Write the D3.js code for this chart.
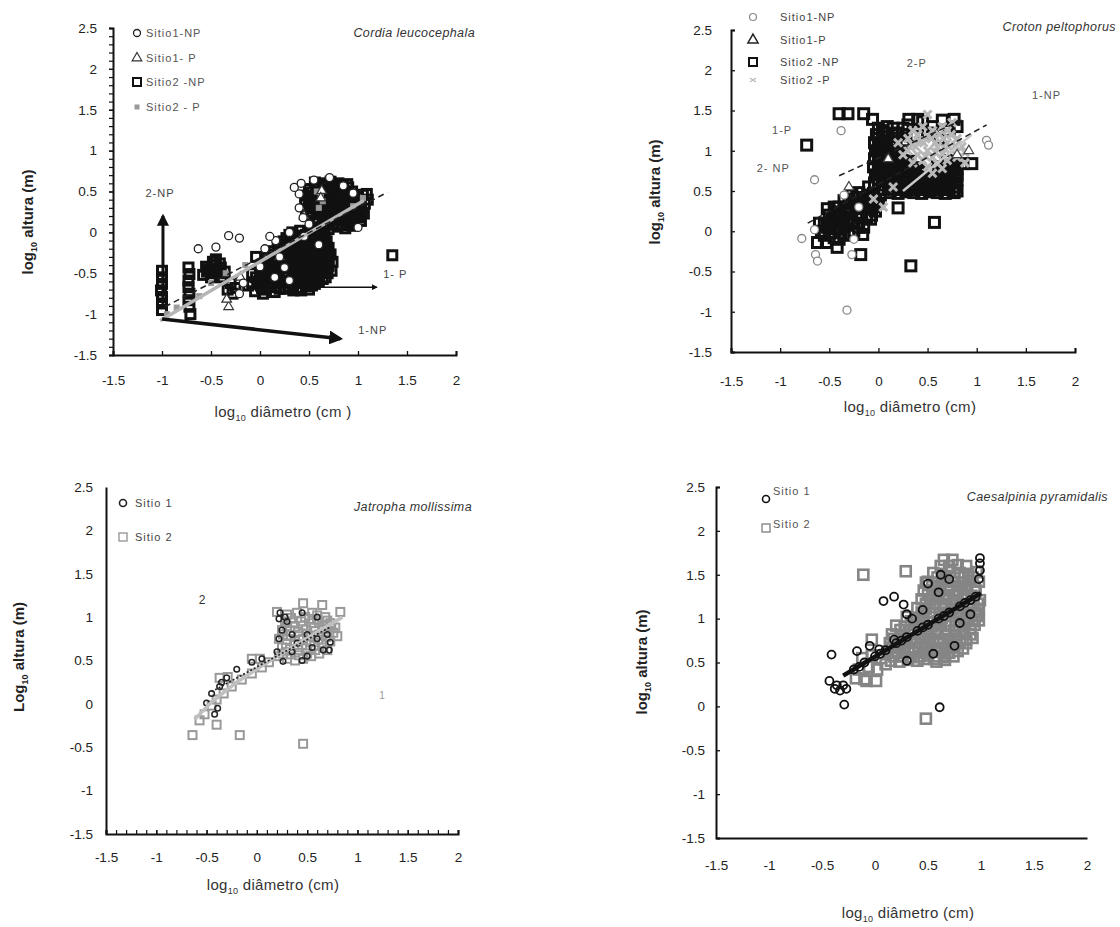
<!DOCTYPE html>
<html>
<head>
<meta charset="utf-8">
<script src="https://cdn.jsdelivr.net/npm/d3@7"></script>
<style>
body{margin:0;background:#fff;}
svg{font-family:"Liberation Sans",Arial,sans-serif;}
</style>
</head>
<body>
<svg id="chart" width="1120" height="927"></svg>
<script>
// tick labels shared by all four panels
var xTicks=[-1.5,-1,-0.5,0,0.5,1,1.5,2];
var yTicks=[-1.5,-1,-0.5,0,0.5,1,1.5,2,2.5];

// ---- Cordia leucocephala (top left) ----
var cordiaS1NP=[[-0.63,-0.20],[-0.45,-0.18],[-0.32,-0.04],[-0.21,-0.07],[-0.21,-0.75],[-0.17,-0.62],[0.71,0.67],[1.0,0.06],
  [0.40,0.47],[0.40,0.30],[0.44,0.18],[0.16,-0.10],[0.30,-0.59],[0.25,-0.43],[0.10,-0.05],[0.05,-0.20],[0.35,0.55],[0.42,0.60],
  [0.55,0.64],[0.85,0.57],[0.95,0.48],[0.20,-0.30],[0.45,-0.05],[0.50,0.10],[0.0,-0.42],[0.60,-0.15],[0.30,0.0],[0.15,-0.55]];
var cordiaS1P=[[-0.32,-0.91],[-0.34,-0.82],[0.63,0.51],[0.62,0.42],[0.45,0.2],[0.2,-0.3],[-0.2,-0.55]];
var cordiaS2NP=[[-1.0,-0.47],[-1.0,-0.55],[-1.0,-0.63],[-1.01,-0.71],[-1.0,-0.79],[-1.0,-0.87],[-1.0,-0.95],
  [-0.73,-0.43],[-0.72,-0.51],[-0.73,-0.59],[-0.73,-0.67],[-0.72,-0.75],[-0.73,-0.83],[-0.72,-0.91],[-0.71,-1.0],
  [-0.58,-0.52],[-0.52,-0.45],[-0.47,-0.40],[-0.42,-0.50],[-0.50,-0.55],[-0.45,-0.33],[-0.38,-0.55],[-0.55,-0.42],[-0.40,-0.43],
  [-0.54,-0.48],[-0.49,-0.5],[-0.44,-0.46],[-0.48,-0.36],[-0.41,-0.38],[-0.36,-0.48],
  [-0.33,-0.70],[-0.28,-0.75],[-0.30,-0.62],[-0.25,-0.68],
  [1.35,-0.28],[0.34,-0.71],[0.03,-0.75],[0.63,-0.28],[-0.04,-0.30],[-0.12,-0.65],[-0.08,-0.5],
  [-0.05,-0.72],[0.06,-0.70],[0.15,-0.73],[0.26,-0.69],[0.42,-0.71],[0.5,-0.7],
  [0.02,-0.68],[0.11,-0.67],[0.2,-0.69],[0.3,-0.67],[0.38,-0.68],[0.47,-0.66],[0.56,-0.63],
  [-0.08,-0.63],[0.01,-0.65],[0.09,-0.62],[0.17,-0.66],[0.24,-0.61],[0.33,-0.64],[0.44,-0.62],[0.53,-0.65],[0.6,-0.6],
  [-0.02,-0.6],[0.06,-0.6],[0.14,-0.59],[0.22,-0.61],[0.3,-0.6],[0.39,-0.59],[0.48,-0.6],[0.56,-0.58],[0.64,-0.57],
  [-0.04,-0.55],[0.04,-0.57],[0.12,-0.54],[0.19,-0.58],[0.28,-0.55],[0.36,-0.53],[0.43,-0.57],[0.51,-0.54],[0.6,-0.52],[0.67,-0.55],
  [0.02,-0.52],[0.1,-0.51],[0.18,-0.52],[0.27,-0.51],[0.35,-0.5],[0.44,-0.52],[0.53,-0.5],[0.61,-0.49],[0.69,-0.5],
  [0.0,-0.47],[0.09,-0.49],[0.16,-0.46],[0.25,-0.48],[0.33,-0.45],[0.41,-0.49],[0.49,-0.46],[0.57,-0.48],[0.65,-0.45],[0.73,-0.47],
  [0.05,-0.44],[0.13,-0.43],[0.22,-0.44],[0.3,-0.42],[0.38,-0.44],[0.46,-0.43],[0.54,-0.42],[0.62,-0.43],[0.7,-0.41],
  [0.03,-0.39],[0.11,-0.41],[0.19,-0.38],[0.27,-0.41],[0.35,-0.38],[0.43,-0.41],[0.51,-0.39],[0.59,-0.41],[0.67,-0.38],[0.74,-0.36],
  [0.12,-0.36],[0.2,-0.35],[0.29,-0.36],[0.37,-0.34],[0.45,-0.36],[0.53,-0.35],[0.62,-0.35],[0.7,-0.33],
  [0.08,-0.31],[0.17,-0.33],[0.24,-0.3],[0.33,-0.32],[0.41,-0.3],[0.49,-0.33],[0.57,-0.3],[0.66,-0.32],[0.72,-0.27],
  [0.12,-0.27],[0.2,-0.28],[0.28,-0.26],[0.37,-0.28],[0.44,-0.27],[0.52,-0.28],[0.6,-0.26],[0.68,-0.24],
  [0.14,-0.23],[0.23,-0.25],[0.3,-0.22],[0.39,-0.25],[0.46,-0.22],[0.55,-0.24],[0.62,-0.21],[0.7,-0.19],
  [0.18,-0.19],[0.26,-0.2],[0.34,-0.19],[0.42,-0.2],[0.5,-0.19],[0.58,-0.2],[0.66,-0.17],
  [0.2,-0.15],[0.29,-0.17],[0.36,-0.14],[0.45,-0.16],[0.52,-0.13],[0.61,-0.15],[0.68,-0.11],
  [0.24,-0.11],[0.32,-0.12],[0.4,-0.11],[0.48,-0.12],[0.56,-0.1],[0.64,-0.08],
  [0.27,-0.07],[0.35,-0.09],[0.43,-0.06],[0.51,-0.08],[0.59,-0.05],[0.66,-0.03],
  [0.3,-0.03],[0.39,-0.04],[0.47,-0.03],[0.55,-0.02],[0.62,-0.01],
  [0.33,0.0],[0.41,0.02],[0.49,-0.01],[0.57,0.03],[0.64,0.01],
  [0.62,0.06],[0.7,0.04],[0.79,0.07],[0.87,0.05],[0.94,0.08],
  [0.66,0.09],[0.75,0.1],[0.83,0.09],[0.91,0.11],
  [0.55,0.13],[0.64,0.14],[0.71,0.12],[0.8,0.15],[0.88,0.13],[0.96,0.15],[1.03,0.14],
  [0.59,0.17],[0.68,0.17],[0.76,0.18],[0.85,0.17],[0.93,0.18],[1.01,0.18],
  [0.5,0.21],[0.58,0.22],[0.67,0.2],[0.74,0.23],[0.83,0.21],[0.9,0.22],[0.99,0.2],[1.06,0.23],
  [0.53,0.25],[0.62,0.25],[0.7,0.26],[0.79,0.25],[0.87,0.26],[0.95,0.25],[1.03,0.27],
  [0.47,0.29],[0.56,0.3],[0.63,0.28],[0.72,0.31],[0.79,0.29],[0.88,0.3],[0.95,0.28],[1.03,0.31],
  [0.51,0.33],[0.59,0.33],[0.68,0.34],[0.76,0.33],[0.84,0.34],[0.92,0.33],[1.0,0.35],[1.07,0.35],
  [0.46,0.37],[0.54,0.38],[0.63,0.36],[0.7,0.39],[0.79,0.37],[0.86,0.38],[0.94,0.36],[1.02,0.39],[1.1,0.4],
  [0.5,0.41],[0.59,0.41],[0.67,0.42],[0.76,0.41],[0.84,0.42],[0.92,0.41],[1.0,0.43],
  [0.48,0.45],[0.57,0.46],[0.64,0.44],[0.73,0.47],[0.8,0.45],[0.89,0.46],[0.96,0.44],[1.05,0.46],[1.09,0.47],
  [0.53,0.49],[0.61,0.5],[0.69,0.49],[0.78,0.5],[0.86,0.5],[0.94,0.5],
  [0.5,0.53],[0.59,0.54],[0.66,0.52],[0.75,0.55],[0.82,0.53],[0.9,0.55],
  [0.6,0.57],[0.68,0.57],[0.77,0.57],[0.85,0.56],
  [0.56,0.61],[0.64,0.6],[0.72,0.62],[0.8,0.6],[0.89,0.59]];
var cordiaS2P=[[-0.95,-1.0],[-0.85,-0.92],[-0.62,-0.78],[-0.5,-0.62],[-0.35,-0.5],[-0.15,-0.4],[0.62,0.45],[0.6,0.3],
  [0.64,0.38],[0.58,0.5],[1.05,0.42],[0.95,0.32]];
var cordiaFitS2NP=[[-0.97,-0.91],[1.30,0.49]];
var cordiaFitS2P=[[-1.02,-1.08],[1.06,0.39]];
var cordiaArrows=[
  {from:[-0.99,-0.93],to:[-0.99,0.20],label:"2-NP",at:[-1.02,0.48]},
  {from:[0.34,-0.67],to:[1.19,-0.67],label:"1- P",at:[1.38,-0.51]},
  {from:[-1.0,-1.06],to:[0.82,-1.30],label:"1-NP",at:[1.15,-1.19]}];
var cordiaLegend=["Sitio1-NP","Sitio1- P","Sitio2 -NP","Sitio2 - P"];

// ---- Croton peltophorus (top right) ----
var crotonS1NP=[[-0.38,1.25],[-0.65,0.64],[-0.78,-0.09],[-0.65,0.02],[-0.64,-0.29],[-0.62,-0.37],[-0.25,-0.10],[-0.27,-0.29],
  [-0.32,-0.98],[1.10,1.13],[1.12,1.07],[-0.35,0.45],[-0.2,0.3]];
var crotonS1P=[[0.92,1.0],[-0.3,0.55],[0.1,0.9],[0.8,0.95]];
var crotonS2NP=[[-0.40,1.46],[-0.31,1.46],[-0.15,1.46],[-0.06,1.39],[-0.73,1.07],[0.31,1.39],[0.40,1.39],[0.77,1.39],
  [0.95,0.84],[0.86,0.84],[0.77,0.76],[0.77,0.48],[0.20,0.29],[0.57,0.11],[0.33,-0.43],[-0.62,-0.14],[-0.53,-0.14],
  [-0.42,-0.20],[-0.18,-0.29],[-0.16,-0.04],[-0.07,0.20],
  [-0.58,0.0],[-0.55,0.08],[-0.5,-0.02],[-0.48,0.1],[-0.45,0.18],[-0.42,0.03],[-0.4,0.12],[-0.38,0.22],[-0.35,0.06],[-0.33,0.3],
  [-0.3,0.15],[-0.28,0.25],[-0.25,0.35],[-0.22,0.1],[-0.2,0.2],[-0.18,0.3],[-0.15,0.4],[-0.12,0.18],[-0.1,0.28],[-0.08,0.38],
  [-0.05,0.47],[-0.03,0.25],[0.0,0.35],[0.02,0.45],[-0.45,-0.08],[-0.35,-0.04],[-0.25,0.0],[-0.5,0.2],[-0.4,0.3],[-0.3,0.4],
  [-0.2,0.48],[-0.1,0.55],[0.05,0.52],[-0.15,0.05],
  [-0.55,-0.05],[-0.52,0.05],[-0.47,0.14],[-0.43,0.24],[-0.37,0.15],[-0.32,0.22],[-0.27,0.1],[-0.24,0.28],[-0.22,0.42],
  [-0.17,0.2],[-0.13,0.33],[-0.11,0.45],[-0.06,0.3],[-0.03,0.4],[0.0,0.52],[-0.4,-0.1],[-0.3,-0.05],[-0.45,0.3],
  [-0.35,0.38],[-0.6,0.1],[-0.52,0.28],[-0.38,-0.02],[-0.2,0.05],[-0.08,0.15],[-0.27,0.45],
  [-0.04,0.6],[0.04,0.62],[0.12,0.6],[-0.03,0.7],[0.05,0.72],[0.13,0.7],[-0.05,0.8],[0.03,0.82],[0.11,0.8],[-0.04,0.9],
  [0.04,0.92],[0.12,0.9],[-0.03,1.0],[0.05,1.02],[0.13,1.0],[-0.04,1.1],[0.04,1.12],[0.12,1.1],[-0.02,1.2],[0.06,1.22],
  [0.14,1.2],[0.0,1.28],[0.09,1.3],[0.2,1.22],[0.18,1.05],[0.2,0.95],
  [0.0,0.65],[0.08,0.67],[0.16,0.66],[0.0,0.75],[0.08,0.77],[0.16,0.76],[0.0,0.85],[0.08,0.87],[0.16,0.86],[0.0,0.95],
  [0.08,0.97],[0.0,1.05],[0.08,1.07],[0.16,1.12],[0.0,1.15],[0.08,1.17],[0.04,1.25],[0.15,1.28],[0.22,1.0],[0.26,1.1],
  [0.28,1.2],[0.24,0.82],
  [0.12,0.48],[0.2,0.47],[0.28,0.49],[0.36,0.48],[0.44,0.47],[0.52,0.49],[0.6,0.48],[0.68,0.47],[0.76,0.49],
  [0.16,0.52],[0.24,0.52],[0.32,0.52],[0.4,0.52],[0.48,0.52],[0.56,0.52],[0.64,0.52],[0.72,0.52],[0.8,0.5],
  [0.15,0.56],[0.23,0.57],[0.31,0.55],[0.39,0.56],[0.47,0.57],[0.55,0.55],[0.63,0.56],[0.71,0.57],[0.79,0.55],
  [0.14,0.6],[0.22,0.6],[0.3,0.6],[0.38,0.6],[0.46,0.6],[0.54,0.6],[0.62,0.6],[0.7,0.6],[0.78,0.6],
  [0.1,0.64],[0.18,0.65],[0.26,0.63],[0.34,0.64],[0.42,0.65],[0.5,0.63],[0.58,0.64],[0.66,0.65],[0.74,0.63],[0.8,0.64],
  [0.18,0.68],[0.26,0.68],[0.34,0.68],[0.42,0.68],[0.5,0.68],[0.58,0.68],[0.66,0.68],[0.74,0.68],[0.8,0.7],
  [0.14,0.72],[0.22,0.73],[0.3,0.71],[0.38,0.72],[0.46,0.73],[0.54,0.71],[0.62,0.72],[0.7,0.73],[0.78,0.71],
  [0.18,0.76],[0.26,0.76],[0.34,0.76],[0.42,0.76],[0.64,0.76],[0.72,0.76],[0.8,0.78],
  [0.2,0.8],[0.28,0.81],[0.36,0.79],[0.6,0.8],[0.68,0.79],[0.76,0.81],[0.28,0.84],[0.74,0.83],
  [0.24,0.88],[0.32,0.87],[0.7,0.88],[0.78,0.87],[0.2,0.9],
  [0.3,1.32],[0.45,1.36],[0.55,1.3],[0.65,1.38],[0.72,1.25],[0.5,1.22],[0.35,1.18],[0.25,1.28],[0.8,1.3],[0.62,1.15]];
var crotonS2P=[[0.3,1.0],[0.38,1.05],[0.46,1.1],[0.54,1.15],[0.62,1.2],[0.7,1.25],[0.35,1.25],[0.45,1.3],[0.55,1.25],
  [0.65,1.3],[0.75,1.35],[0.4,0.95],[0.5,1.0],[0.6,1.05],[0.7,1.1],[0.8,1.15],[0.45,0.88],[0.55,0.92],[0.65,0.96],
  [0.75,1.0],[0.85,1.05],[0.5,0.8],[0.6,0.84],[0.7,0.88],[0.8,0.92],[0.88,0.98],[0.3,1.15],[0.4,1.2],[0.5,1.45],
  [0.2,1.1],[0.25,0.95],[0.55,0.72],[0.65,0.78],[0.88,0.85],[0.35,0.85],[0.15,0.55],[0.05,0.3],[-0.05,0.4],
  [0.34,1.08],[0.42,1.12],[0.5,1.18],[0.58,1.1],[0.66,1.15],[0.74,1.2],[0.48,0.93],[0.58,0.98],[0.68,1.02],[0.78,1.06]];
var crotonFit1NP=[[-0.72,0.10],[1.1,1.32]];
var crotonFit2NP=[[-0.4,0.69],[0.85,1.38]];
var crotonFit2P=[[0.25,0.5],[0.95,1.2]];
var crotonNotes=[{label:"2-P",at:[0.39,2.09]},{label:"1-NP",at:[1.71,1.69]},{label:"1-P",at:[-0.98,1.25]},{label:"2- NP",at:[-1.07,0.78]}];
var crotonLegend=["Sitio1-NP","Sitio1-P","Sitio2 -NP","Sitio2 -P"];

// ---- Jatropha mollissima (bottom left) ----
var jatrophaS1=[[-0.50,0.01],[-0.39,-0.05],[-0.37,0.20],[-0.45,0.12],[-0.42,-0.12],[-0.35,0.25],[-0.30,0.30],[-0.20,0.40],
  [-0.05,0.48],[0.05,0.52],[0.23,1.05],[0.22,0.98],[0.73,0.71],[0.66,0.62],[0.45,0.50],[0.26,0.49],[0.20,0.60],[0.22,0.75],
  [0.25,0.85],[0.30,0.95],[0.35,0.80],[0.40,0.70],[0.50,0.80],[0.55,0.65],[0.60,0.75],[0.70,0.80],[0.45,1.05],[0.60,1.00],
  [0.35,0.60],[0.50,0.55],[0.72,0.62],[0.28,1.00]];
var jatrophaS2=[[-0.64,-0.36],[-0.40,-0.24],[-0.17,-0.36],[-0.57,-0.19],[0.46,-0.46],[-0.37,0.30],[-0.29,0.31],[-0.05,0.52],
  [0.03,0.52],[0.20,1.06],[0.46,1.16],[0.65,1.14],[0.83,1.06],
  [0.22,0.55],[0.3,0.52],[0.38,0.5],[0.46,0.52],[0.54,0.55],[0.62,0.58],[0.7,0.62],
  [0.26,0.58],[0.34,0.57],[0.42,0.56],[0.5,0.58],[0.58,0.62],[0.66,0.65],
  [0.25,0.65],[0.33,0.63],[0.41,0.62],[0.49,0.64],[0.57,0.67],[0.65,0.7],[0.73,0.72],[0.8,0.78],
  [0.29,0.69],[0.37,0.68],[0.45,0.68],[0.53,0.71],[0.61,0.74],[0.69,0.77],[0.76,0.82],
  [0.22,0.75],[0.3,0.74],[0.38,0.72],[0.46,0.75],[0.54,0.78],[0.62,0.8],[0.7,0.83],[0.78,0.88],
  [0.26,0.8],[0.34,0.79],[0.42,0.78],[0.5,0.81],[0.58,0.84],[0.66,0.86],[0.74,0.9],
  [0.25,0.85],[0.33,0.84],[0.41,0.83],[0.49,0.86],[0.57,0.88],[0.65,0.9],[0.73,0.93],
  [0.3,0.9],[0.38,0.89],[0.46,0.9],[0.54,0.93],[0.62,0.94],[0.7,0.96],
  [0.28,0.95],[0.36,0.94],[0.44,0.95],[0.52,0.98],[0.6,0.97],[0.68,1.0],[0.34,0.99],[0.48,1.0],[0.6,1.02],
  [0.3,1.03],[0.4,1.05],[0.55,1.05],
  [-0.52,-0.12],[-0.45,-0.02],[-0.4,0.05],[-0.33,0.12],[-0.25,0.2],[-0.15,0.28],[-0.05,0.35],[0.05,0.42],[0.12,0.48]];
var jatrophaFitS1=[[-0.45,0.14],[0.72,0.88]];
var jatrophaFitS2=[[-0.62,-0.18],[-0.45,0.02],[-0.2,0.25],[0.2,0.55],[0.85,1.0]];
var jatrophaNotes=[{label:"2",at:[-0.54,1.2]},{label:"1",at:[1.25,0.1]}];
var siteLegend=["Sitio 1","Sitio 2"];

// ---- Caesalpinia pyramidalis (bottom right) ----
var caesalpiniaS1=[[-0.41,0.59],[-0.43,0.29],[-0.36,0.24],[-0.30,0.24],[-0.27,0.20],[-0.29,0.02],[0.61,-0.01],[0.08,1.20],
  [0.18,1.25],[0.27,1.16],[-0.17,0.63],[-0.05,0.69],[0.04,0.65],[0.99,1.69],[0.99,1.63],[0.75,0.69],[0.18,0.76],[0.30,0.52],
  [0.99,1.55],[0.98,1.45],[0.3,1.05],[-0.38,0.2],[-0.33,0.18],
  [-0.2,0.42],[-0.1,0.5],[0.0,0.57],[0.1,0.64],[0.2,0.72],[0.3,0.79],[0.4,0.86],[0.5,0.93],[0.6,1.0],[0.7,1.07],[0.8,1.14],
  [0.9,1.21],[-0.15,0.45],[0.05,0.6],[0.25,0.75],[0.45,0.9],[0.65,1.03],[0.85,1.18],[0.95,1.25],
  [0.5,1.4],[0.6,1.3],[0.7,1.45],[0.55,0.6],[0.45,1.1],[0.8,0.95],[0.9,1.05],[0.35,1.0],[0.62,1.5]];
var caesalpiniaS2=[[-0.11,1.50],[0.29,1.54],[0.65,1.67],[0.73,1.67],[0.48,1.41],[0.48,-0.14],[-0.08,0.29],[0.01,0.29],
  [-0.03,0.76],[0.46,0.54],[0.56,0.54],[0.65,0.56],[0.87,0.99],
  [-0.18,0.32],[-0.1,0.31],[-0.15,0.42],[-0.06,0.45],[0.02,0.42],[-0.12,0.55],[-0.03,0.58],[0.06,0.55],[0.1,0.48],
  [0.15,0.52],[0.23,0.51],[0.31,0.53],[0.4,0.52],[0.58,0.51],[0.66,0.53],
  [0.18,0.57],[0.26,0.57],[0.34,0.56],[0.42,0.57],[0.5,0.58],[0.58,0.57],[0.66,0.58],[0.74,0.57],
  [0.12,0.62],[0.2,0.61],[0.28,0.63],[0.36,0.62],[0.45,0.61],[0.53,0.63],[0.62,0.62],[0.7,0.61],[0.78,0.63],
  [0.16,0.67],[0.24,0.67],[0.32,0.66],[0.41,0.67],[0.49,0.67],[0.58,0.66],[0.66,0.67],[0.75,0.67],[0.83,0.66],
  [0.14,0.72],[0.22,0.71],[0.3,0.73],[0.38,0.72],[0.47,0.71],[0.55,0.73],[0.64,0.72],[0.72,0.71],[0.8,0.73],[0.86,0.72],
  [0.18,0.77],[0.26,0.77],[0.35,0.76],[0.43,0.77],[0.52,0.77],[0.6,0.76],[0.69,0.77],[0.77,0.77],[0.86,0.76],[0.92,0.78],
  [0.16,0.82],[0.25,0.81],[0.33,0.83],[0.42,0.82],[0.5,0.81],[0.59,0.83],[0.67,0.82],[0.76,0.81],[0.84,0.83],[0.9,0.82],
  [0.24,0.87],[0.32,0.87],[0.41,0.86],[0.49,0.87],[0.58,0.87],[0.66,0.86],[0.75,0.87],[0.83,0.87],[0.9,0.88],
  [0.2,0.92],[0.28,0.91],[0.37,0.93],[0.45,0.92],[0.54,0.91],[0.62,0.93],[0.7,0.92],[0.79,0.91],[0.94,0.93],
  [0.34,0.97],[0.42,0.97],[0.5,0.96],[0.59,0.97],[0.67,0.97],[0.76,0.96],[0.84,0.97],[0.92,0.97],[0.98,0.98],
  [0.3,1.02],[0.38,1.01],[0.46,1.03],[0.55,1.02],[0.63,1.01],[0.72,1.03],[0.8,1.02],[0.88,1.01],[0.96,1.03],
  [0.44,1.07],[0.52,1.07],[0.61,1.06],[0.69,1.07],[0.78,1.07],[0.86,1.06],[0.94,1.07],
  [0.4,1.12],[0.48,1.11],[0.57,1.13],[0.65,1.12],[0.74,1.11],[0.82,1.13],[0.9,1.12],[0.98,1.11],
  [0.48,1.17],[0.56,1.17],[0.64,1.16],[0.72,1.17],[0.8,1.17],[0.89,1.16],[0.97,1.17],
  [0.44,1.22],[0.52,1.21],[0.6,1.23],[0.68,1.22],[0.76,1.21],[0.85,1.23],[0.93,1.22],[0.99,1.21],
  [0.5,1.27],[0.58,1.27],[0.66,1.26],[0.74,1.27],[0.83,1.27],[0.91,1.26],
  [0.46,1.32],[0.54,1.31],[0.62,1.33],[0.7,1.32],[0.78,1.31],[0.87,1.33],[0.95,1.32],
  [0.54,1.37],[0.62,1.37],[0.7,1.36],[0.78,1.37],[0.86,1.37],[0.94,1.36],
  [0.5,1.42],[0.58,1.41],[0.66,1.43],[0.74,1.42],[0.82,1.41],[0.9,1.43],[0.98,1.42],
  [0.59,1.47],[0.67,1.47],[0.75,1.46],[0.84,1.47],[0.92,1.47],
  [0.55,1.52],[0.63,1.51],[0.71,1.53],[0.8,1.52],[0.88,1.51],[0.96,1.53],[0.62,1.6],[0.7,1.6],[0.78,1.61],[0.86,1.6]];
var caesalpiniaFit=[[-0.3,0.35],[1.0,1.29]];

var svg=d3.select("#chart");
var defs=svg.append("defs");
defs.append("marker").attr("id","arrow").attr("viewBox","0 0 10 10")
  .attr("refX",8).attr("refY",5).attr("markerWidth",4).attr("markerHeight",4)
  .attr("markerUnits","strokeWidth").attr("orient","auto")
  .append("path").attr("d","M0,0L10,5L0,10z").attr("fill","#111");

var fmt=function(d){return String(d);};

function logText(sel, pre, post){
  sel.append("tspan").text(pre);
  sel.append("tspan").attr("font-size","9px").attr("dy",4).text("10");
  sel.append("tspan").attr("dy",-4).text(post);
}

function makePanel(o){
  var g=svg.append("g");
  var x=d3.scaleLinear().domain([-1.5,2]).range(o.xr);
  var y=d3.scaleLinear().domain([-1.5,2.5]).range(o.yr);

  // axes
  var ya=d3.axisLeft(y).tickValues(yTicks).tickFormat(fmt).tickSizeOuter(0)
    .tickSize(o.yTick).tickPadding(o.yPad);
  var xa=d3.axisBottom(x).tickValues(xTicks).tickFormat(fmt).tickSizeOuter(0)
    .tickSize(o.xTick).tickPadding(o.xPad);
  var gy=g.append("g").attr("transform","translate("+o.xr[0]+",0)").call(ya);
  var gx=g.append("g").attr("transform","translate(0,"+o.yr[0]+")").call(xa);
  [gx,gy].forEach(function(a){
    a.select(".domain").attr("stroke","#111").attr("stroke-width",2);
    a.selectAll(".tick line").attr("stroke","#111").attr("stroke-width",1.3);
    a.selectAll("text").attr("font-size","13.5px").attr("fill","#222").attr("font-family","Liberation Sans, Arial, sans-serif");
  });
  if(o.yMinor){
    g.append("g").attr("transform","translate("+o.xr[0]+",0)")
      .call(d3.axisLeft(y).tickValues(d3.range(-1.5,2.51,0.1)).tickFormat("").tickSizeOuter(0).tickSize(4))
      .call(function(a){a.select(".domain").remove();a.selectAll("line").attr("stroke","#111").attr("stroke-width",1.2);});
  }
  if(o.xMinor){
    g.append("g").attr("transform","translate(0,"+o.yr[0]+")")
      .call(d3.axisBottom(x).tickValues(d3.range(-1.5,2.01,0.1)).tickFormat("").tickSizeOuter(0).tickSize(-4))
      .call(function(a){a.select(".domain").remove();a.selectAll("line").attr("stroke","#111").attr("stroke-width",1.2);});
  }

  // axis titles
  var xt=g.append("text").attr("x",o.xTitle[0]).attr("y",o.xTitle[1]).attr("text-anchor","middle")
    .attr("font-size","15px").attr("fill","#333").attr("letter-spacing","0.3px");
  logText(xt,"log",o.xTitleText);
  var yt=g.append("text").attr("transform","translate("+o.yTitle[0]+","+o.yTitle[1]+") rotate(-90)")
    .attr("text-anchor","middle").attr("font-size","15px").attr("fill","#222").attr("font-weight","bold");
  logText(yt,o.yPre," altura (m)");

  // species name
  g.append("text").attr("x",o.name[0]).attr("y",o.name[1]).attr("text-anchor","end")
    .attr("font-size","12.5px").attr("font-style","italic").attr("fill","#333").attr("letter-spacing","0.4px")
    .text(o.nameText);

  return {g:g,x:x,y:y};
}

function squares(p,data,size,stroke,sw,fill){
  p.g.append("g").selectAll("rect").data(data).join("rect")
    .attr("x",function(d){return p.x(d[0])-size/2;}).attr("y",function(d){return p.y(d[1])-size/2;})
    .attr("width",size).attr("height",size)
    .attr("fill",fill||"none").attr("stroke",stroke).attr("stroke-width",sw);
}
function circles(p,data,r,stroke,sw,fill){
  p.g.append("g").selectAll("circle").data(data).join("circle")
    .attr("cx",function(d){return p.x(d[0]);}).attr("cy",function(d){return p.y(d[1]);}).attr("r",r)
    .attr("fill",fill||"none").attr("stroke",stroke).attr("stroke-width",sw);
}
function triangles(p,data,size,stroke,sw){
  p.g.append("g").selectAll("path").data(data).join("path")
    .attr("d",d3.symbol(d3.symbolTriangle,size))
    .attr("transform",function(d){return "translate("+p.x(d[0])+","+p.y(d[1])+")";})
    .attr("fill","#fff").attr("stroke",stroke).attr("stroke-width",sw);
}
function crosses(p,data,h,stroke,sw){
  p.g.append("g").selectAll("path").data(data).join("path")
    .attr("d","M"+(-h)+","+(-h)+"L"+h+","+h+"M"+(-h)+","+h+"L"+h+","+(-h))
    .attr("transform",function(d){return "translate("+p.x(d[0])+","+p.y(d[1])+")";})
    .attr("fill","none").attr("stroke",stroke).attr("stroke-width",sw);
}
function fit(p,pts,stroke,sw,dash){
  var line=d3.line().x(function(d){return p.x(d[0]);}).y(function(d){return p.y(d[1]);});
  p.g.append("path").datum(pts).attr("d",line).attr("fill","none")
    .attr("stroke",stroke).attr("stroke-width",sw).attr("stroke-dasharray",dash||null);
}
function note(p,n,size,color){
  p.g.append("text").attr("x",p.x(n.at[0])).attr("y",p.y(n.at[1])).attr("text-anchor","middle")
    .attr("dy","0.35em").attr("font-size",size).attr("fill",color).attr("letter-spacing","1px").text(n.label);
}

// ===== Panel 1: Cordia =====
var p1=makePanel({xr:[113,456],yr:[355,28],yTick:4,yPad:12,xTick:-4,xPad:20,yMinor:true,xMinor:false,
  xTitle:[283,417],xTitleText:" diâmetro (cm )",yTitle:[33,222],yPre:"log",name:[475,37],nameText:"Cordia leucocephala"});
squares(p1,cordiaS2NP,9,"#111",3);
squares(p1,cordiaS2P,5,"#999",1,"#999");
triangles(p1,cordiaS1P,40,"#333",1.2);
circles(p1,cordiaS1NP,4,"#222",1.3,"#fff");
fit(p1,cordiaFitS2P,"#b5b5b5",3.5);
fit(p1,cordiaFitS2NP,"#222",1.5,"6,4");
cordiaArrows.forEach(function(a,i){
  var w=[3,1.5,3.5][i];
  p1.g.append("line").attr("x1",p1.x(a.from[0])).attr("y1",p1.y(a.from[1]))
    .attr("x2",p1.x(a.to[0])).attr("y2",p1.y(a.to[1]))
    .attr("stroke","#111").attr("stroke-width",w).attr("marker-end","url(#arrow)");
  note(p1,a,"11px","#444");
});
// legend
cordiaLegend.forEach(function(t,i){
  var ly=[33,58,82,107][i], lx=137;
  if(i===0) p1.g.append("circle").attr("cx",lx).attr("cy",ly).attr("r",3.5).attr("fill","none").attr("stroke","#222").attr("stroke-width",1.3);
  if(i===1) p1.g.append("path").attr("d",d3.symbol(d3.symbolTriangle,40)).attr("transform","translate("+lx+","+ly+")").attr("fill","none").attr("stroke","#333").attr("stroke-width",1.2);
  if(i===2) p1.g.append("rect").attr("x",lx-4).attr("y",ly-4).attr("width",8).attr("height",8).attr("fill","none").attr("stroke","#111").attr("stroke-width",2);
  if(i===3) p1.g.append("rect").attr("x",lx-2.5).attr("y",ly-2.5).attr("width",5).attr("height",5).attr("fill","#999");
  p1.g.append("text").attr("x",lx+9).attr("y",ly+4).attr("font-size","11px").attr("fill","#555").attr("letter-spacing","1px").text(t);
});

// ===== Panel 2: Croton =====
var p2=makePanel({xr:[731,1075],yr:[352,30],yTick:-4,yPad:19,xTick:-4,xPad:24,yMinor:false,xMinor:false,
  xTitle:[910,412],xTitleText:" diâmetro (cm)",yTitle:[660,192],yPre:"log",name:[1116,31],nameText:"Croton peltophorus"});
squares(p2,crotonS2NP,10,"#111",3);
crosses(p2,crotonS2P,4,"#b8b8b8",3);
triangles(p2,crotonS1P,40,"#444",1.2);
circles(p2,crotonS1NP,4,"#888",1.3,"#fff");
fit(p2,crotonFit2P,"#c8c8c8",2.5);
fit(p2,crotonFit1NP,"#222",1.5,"6,4");
fit(p2,crotonFit2NP,"#222",1.5,"6,4");
crotonNotes.forEach(function(n){note(p2,n,"11px","#555");});
crotonLegend.forEach(function(t,i){
  var ly=[17,40,62,80][i], lx=753;
  if(i===0) p2.g.append("circle").attr("cx",lx).attr("cy",ly).attr("r",3.5).attr("fill","none").attr("stroke","#888").attr("stroke-width",1.2);
  if(i===1) p2.g.append("path").attr("d",d3.symbol(d3.symbolTriangle,45)).attr("transform","translate("+lx+","+ly+")").attr("fill","none").attr("stroke","#222").attr("stroke-width",1.5);
  if(i===2) p2.g.append("rect").attr("x",lx-4).attr("y",ly-4).attr("width",8).attr("height",8).attr("fill","none").attr("stroke","#111").attr("stroke-width",2);
  if(i===3) p2.g.append("path").attr("d","M-3,-2L3,2M-3,2L3,-2").attr("transform","translate("+lx+","+ly+")").attr("stroke","#bbb").attr("stroke-width",1.5);
  p2.g.append("text").attr("x",780).attr("y",ly+4).attr("font-size","11px").attr("fill","#444").attr("letter-spacing","1px").text(t);
});

// ===== Panel 3: Jatropha =====
var p3=makePanel({xr:[106,458],yr:[834,487],yTick:0,yPad:13,xTick:-4,xPad:18,yMinor:false,xMinor:true,
  xTitle:[273,890],xTitleText:" diâmetro  (cm)",yTitle:[24,657],yPre:"Log",name:[472,511],nameText:"Jatropha mollissima"});
squares(p3,jatrophaS2,8,"#999",2);
circles(p3,jatrophaS1,2.8,"#222",1.5);
fit(p3,jatrophaFitS2,"#c0c0c0",3.5);
fit(p3,jatrophaFitS1,"#222",1.6,"2,2");
note(p3,jatrophaNotes[0],"12px","#333");
note(p3,jatrophaNotes[1],"10px","#999");
p3.g.append("circle").attr("cx",123).attr("cy",503).attr("r",3.5).attr("fill","none").attr("stroke","#222").attr("stroke-width",1.6);
p3.g.append("rect").attr("x",119).attr("y",533).attr("width",8).attr("height",8).attr("fill","none").attr("stroke","#999").attr("stroke-width",1.4);
siteLegend.forEach(function(t,i){
  p3.g.append("text").attr("x",135).attr("y",[507,541][i]).attr("font-size","11px").attr("fill","#444").attr("letter-spacing","1px").text(t);
});

// ===== Panel 4: Caesalpinia =====
var p4=makePanel({xr:[716,1087],yr:[838,487],yTick:-4,yPad:11,xTick:0,xPad:22,yMinor:false,xMinor:false,
  xTitle:[908,918],xTitleText:" diâmetro (cm)",yTitle:[647,662],yPre:"log",name:[1108,501],nameText:"Caesalpinia pyramidalis"});
squares(p4,caesalpiniaS2,10,"#858585",2.6);
circles(p4,caesalpiniaS1,4,"#111",1.8);
fit(p4,caesalpiniaFit,"#111",4.5);
p4.g.append("circle").attr("cx",766).attr("cy",499).attr("r",3.5).attr("fill","none").attr("stroke","#111").attr("stroke-width",1.6);
p4.g.append("rect").attr("x",762).attr("y",524).attr("width",8).attr("height",8).attr("fill","none").attr("stroke","#888").attr("stroke-width",1.4);
siteLegend.forEach(function(t,i){
  p4.g.append("text").attr("x",773).attr("y",[495,528][i]).attr("font-size","11px").attr("fill","#555").attr("letter-spacing","1px").text(t);
});
</script>
</body>
</html>
